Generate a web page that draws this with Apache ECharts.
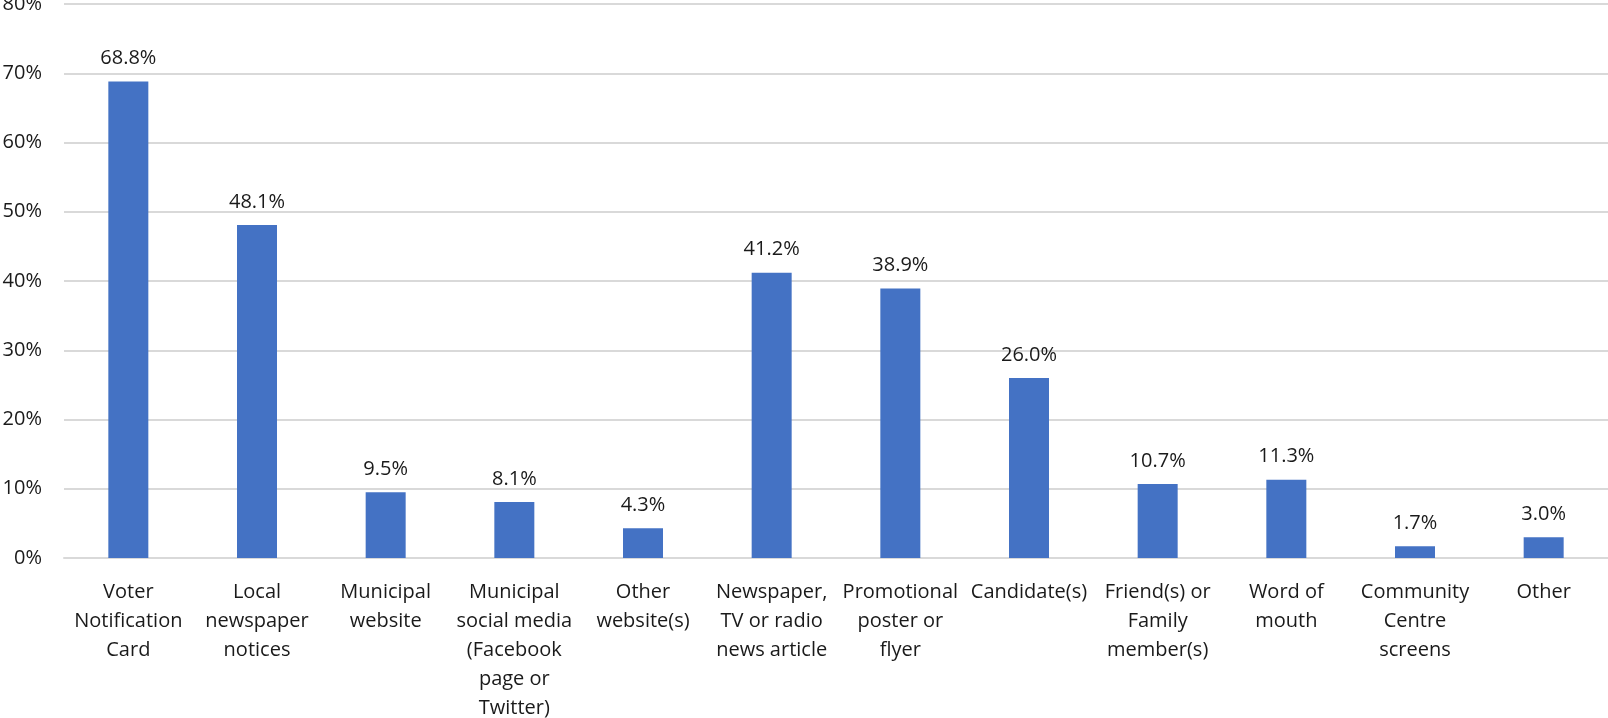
<!DOCTYPE html>
<html>
<head>
<meta charset="utf-8">
<script src="https://cdn.jsdelivr.net/npm/echarts@6/dist/echarts.min.js"></script>
<style>
    html, body { margin: 0; padding: 0; background: #fff; }
    #chartDiv { width: 1608px; height: 718px; }
</style>
</head>
<body>
<div id="chartDiv"></div>
<script>
// categories (line breaks as in the picture)
var categories = [
    'Voter\nNotification\nCard',
    'Local\nnewspaper\nnotices',
    'Municipal\nwebsite',
    'Municipal\nsocial media\n(Facebook\npage or\nTwitter)',
    'Other\nwebsite(s)',
    'Newspaper,\nTV or radio\nnews article',
    'Promotional\nposter or\nflyer',
    'Candidate(s)',
    'Friend(s) or\nFamily\nmember(s)',
    'Word of\nmouth',
    'Community\nCentre\nscreens',
    'Other'
];
// percent values
var values = [68.8, 48.1, 9.5, 8.1, 4.3, 41.2, 38.9, 26.0, 10.7, 11.3, 1.7, 3.0];
var yTicks = [0, 10, 20, 30, 40, 50, 60, 70, 80];

var textColor = '#1a1a1a';
var fontName = 'Open Sans';

var myChart = echarts.init(document.getElementById('chartDiv'));
var option = {
    animation: false,
    grid: {
        left: 64,
        right: 0,
        top: 4,
        bottom: 160,
        outerBoundsMode: 'none',
        containLabel: false
    },
    xAxis: {
        type: 'category',
        data: categories,
        axisLine: { show: true, lineStyle: { color: '#d9d9d9', width: 2 } },
        axisTick: { show: false },
        axisLabel: {
            interval: 0,
            margin: 20,
            color: textColor,
            fontFamily: fontName,
            fontSize: 20,
            lineHeight: 29
        }
    },
    yAxis: {
        type: 'value',
        min: yTicks[0],
        max: yTicks[yTicks.length - 1],
        interval: 10,
        axisLine: { show: false },
        axisTick: { show: false },
        splitLine: { lineStyle: { color: '#d9d9d9', width: 2 } },
        axisLabel: {
            margin: 22,
            color: textColor,
            fontFamily: fontName,
            fontSize: 20,
            formatter: '{value}%'
        }
    },
    series: [{
        type: 'bar',
        data: values,
        barWidth: 40,
        itemStyle: { color: '#4472c4' },
        label: {
            show: true,
            position: 'top',
            distance: 13,
            color: textColor,
            fontFamily: fontName,
            fontSize: 20,
            formatter: function (p) { return p.value.toFixed(1) + '%'; }
        }
    }]
};
myChart.setOption(option);
</script>
</body>
</html>
